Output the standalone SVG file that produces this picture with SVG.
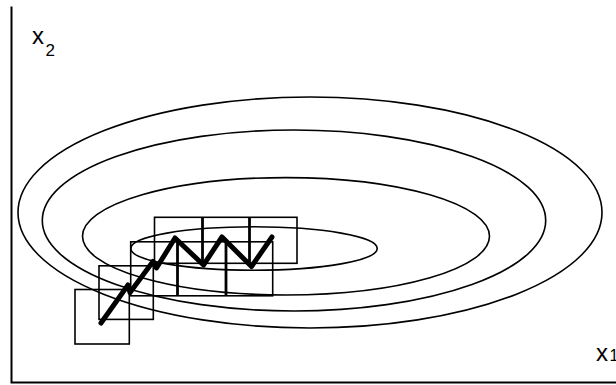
<svg xmlns="http://www.w3.org/2000/svg" width="616" height="385" viewBox="0 0 616 385">
<style>
.ax{stroke:#000;stroke-width:2;fill:none}
.el{stroke:#000;stroke-width:1.6;fill:none}
.bx{stroke:#000;stroke-width:1.6;fill:none}
.dv{stroke:#000;stroke-width:2.8;fill:none}
.zz{stroke:#000;stroke-width:5;fill:none;stroke-linecap:round;stroke-linejoin:round}
.lb{font-family:"Liberation Sans",Arial,sans-serif;fill:#000}
</style>
<rect width="616" height="385" fill="#fff"/>
<g id="axes">
<polyline class="ax" points="11.5,6.5 11.5,382.5 616,382.5"/>
<text class="lb" x="32" y="43.5" font-size="24">x</text>
<text class="lb" x="45.5" y="56" font-size="17">2</text>
<text class="lb" x="596" y="360.5" font-size="24">x</text>
<text class="lb" x="609.5" y="361" font-size="16">1</text>
</g>
<g id="contours">
<ellipse class="el" cx="310" cy="212.5" rx="292" ry="115.5"/>
<ellipse class="el" cx="294" cy="220.5" rx="251.7" ry="90.5"/>
<ellipse class="el" cx="286" cy="236.3" rx="203.5" ry="58.7"/>
<ellipse class="el" cx="254" cy="248.5" rx="123.2" ry="21.7"/>
</g>
<g id="boxes">
<rect class="bx" x="75" y="289.5" width="54.3" height="54.5"/>
<rect class="bx" x="99" y="265.8" width="54.3" height="53.6"/>
<rect class="bx" x="130.7" y="241.8" width="142" height="54"/>
<rect class="bx" x="154.5" y="217.3" width="142.5" height="46"/>
<line class="dv" x1="177.5" y1="241.8" x2="177.5" y2="295.8"/>
<line class="dv" x1="226" y1="241.8" x2="226" y2="295.8"/>
<line class="dv" x1="202.5" y1="217.3" x2="202.5" y2="263.3"/>
<line class="dv" x1="249.5" y1="217.3" x2="249.5" y2="263.3"/>
</g>
<g id="path">
<polyline class="zz" points="101,323 128,285 130,292.5 153,261.5 156.5,268 175,238 203.5,265 222,237 251.5,266.5 272,237"/>
</g>
</svg>
